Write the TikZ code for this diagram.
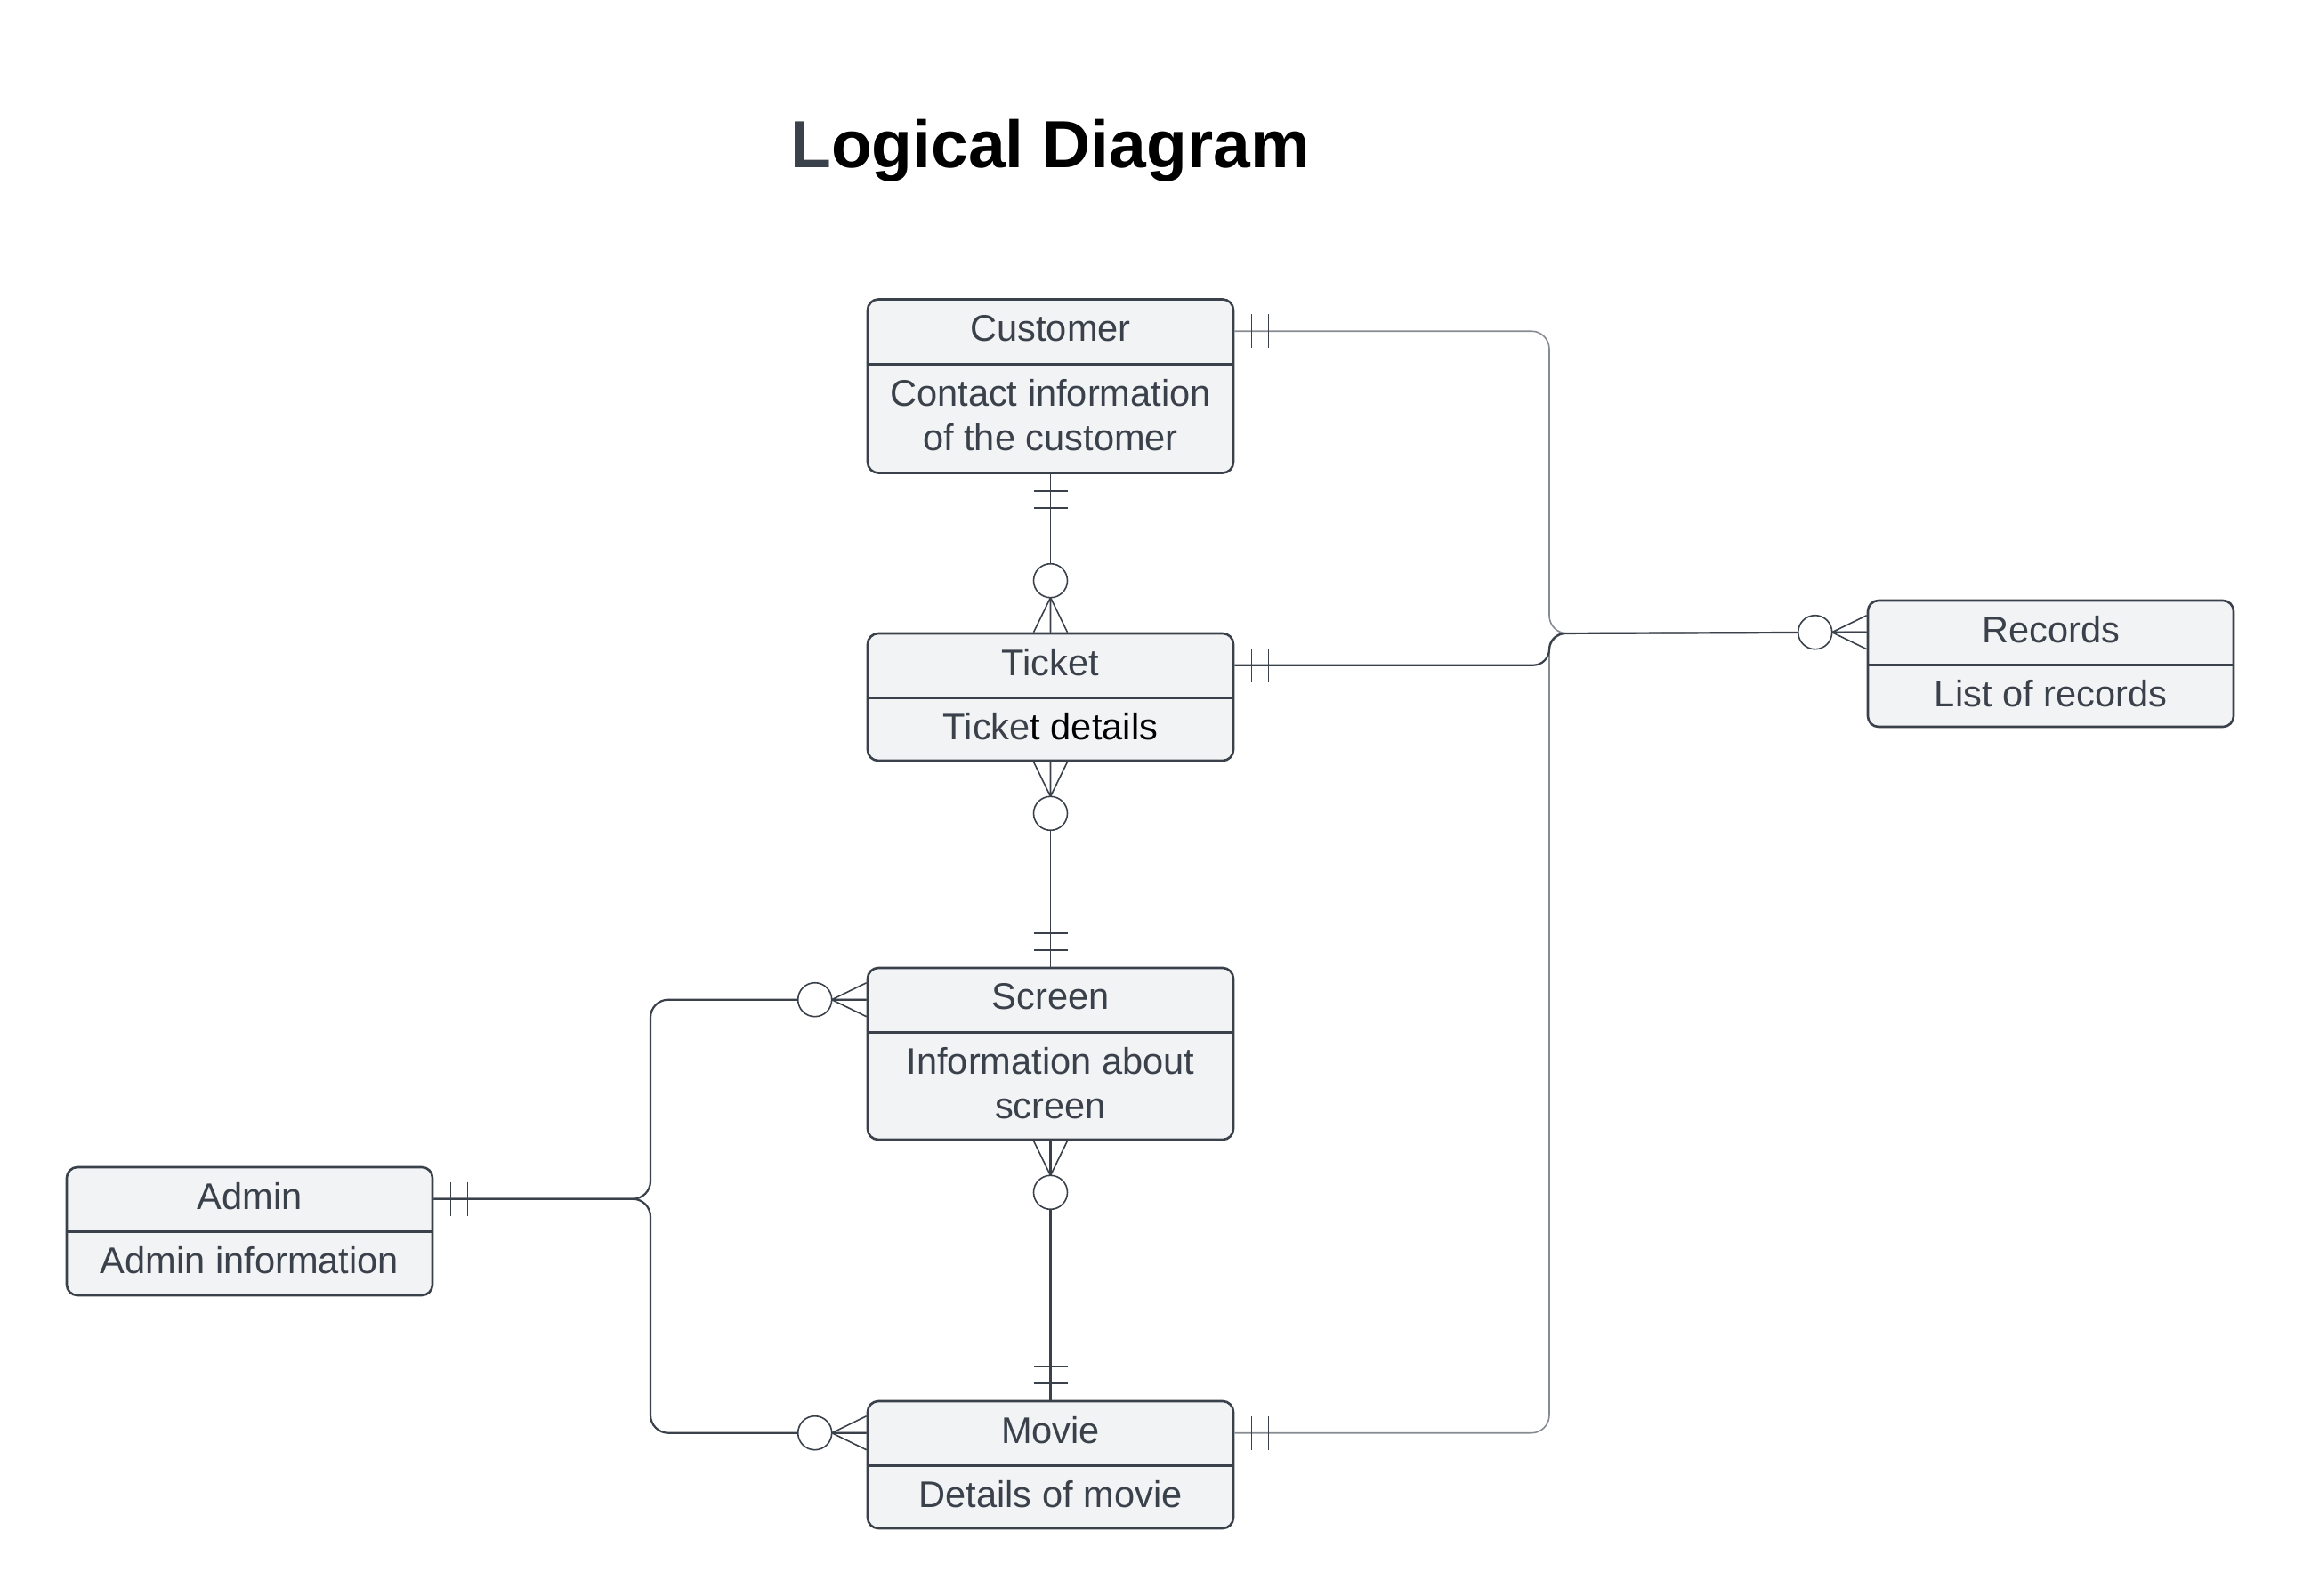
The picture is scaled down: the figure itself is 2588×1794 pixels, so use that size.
\documentclass[tikz,border=0pt]{standalone}
\usepackage{fontspec}
\setmainfont{Liberation Sans}
\usetikzlibrary{calc}
\definecolor{inkc}{HTML}{3A414A}
\definecolor{boxc}{HTML}{F2F3F5}
\definecolor{greyc}{HTML}{868A91}

\begin{document}
\begin{tikzpicture}[x=0.5pt, y=-0.5pt,
    every node/.style={font=\fontsize{20.8}{25}\selectfont, text=inkc},
    entity/.style={draw=inkc, fill=boxc, line width=1.3pt, rounded corners=6pt, minimum width=205.5pt, inner sep=0pt},
    divider/.style={draw=inkc, line width=1.3pt},
    conn/.style={draw=inkc, line width=0.8pt},
    connthick/.style={draw=inkc, line width=1.1pt},
    conngrey/.style={draw=greyc, line width=0.8pt},
    one/.pic={\draw[conn] (19,-19) -- (19,19) (38,-19) -- (38,19);},
    zmany/.pic={\draw[conn] (0,-19) -- (39,0) -- (0,19) (0,0) -- (39,0);
                \draw[conn, fill=white] (58,0) circle (19);}]
    \useasboundingbox (0,0) rectangle (2588,1794);

    \node[font=\fontsize{37.5}{45}\selectfont\bfseries, text=black, anchor=base] (title) at (1180,188) {\textcolor{inkc}{L}ogical Diagram};

    % entities
    \node[entity, minimum height=97.5pt] (cust) at (1180.5,434) {};
    \draw[divider] ([yshift=-37pt]cust.north west) -- ([yshift=-37pt]cust.north east);
    \node (cust-t) at ([yshift=-16.8pt]cust.north) {Customer};
    \node[align=center] (cust-d) at ([yshift=-65.5pt]cust.north) {Contact information\\of the customer};

    \node[entity, minimum height=71.5pt] (ticket) at (1180.5,783.5) {};
    \draw[divider] ([yshift=-37pt]ticket.north west) -- ([yshift=-37pt]ticket.north east);
    \node (ticket-t) at ([yshift=-16.8pt]ticket.north) {Ticket};
    \node (ticket-d) at ([yshift=-52.8pt]ticket.north) {Ticke\textcolor{black}{t details}};

    \node[entity, minimum height=96.5pt] (screen) at (1180.5,1184.5) {};
    \draw[divider] ([yshift=-37pt]screen.north west) -- ([yshift=-37pt]screen.north east);
    \node (screen-t) at ([yshift=-16.8pt]screen.north) {Screen};
    \node[align=center] (screen-d) at ([yshift=-65.5pt]screen.north) {Information about\\screen};

    \node[entity, minimum height=71.5pt] (movie) at (1180.5,1646.5) {};
    \draw[divider] ([yshift=-37pt]movie.north west) -- ([yshift=-37pt]movie.north east);
    \node (movie-t) at ([yshift=-16.8pt]movie.north) {Movie};
    \node (movie-d) at ([yshift=-52.8pt]movie.north) {Details of movie};

    \node[entity, minimum height=72pt] (admin) at (280.5,1384) {};
    \draw[divider] ([yshift=-37pt]admin.north west) -- ([yshift=-37pt]admin.north east);
    \node (admin-t) at ([yshift=-16.8pt]admin.north) {Admin};
    \node (admin-d) at ([yshift=-52.8pt]admin.north) {Admin information};

    \node[entity, minimum height=71pt] (rec) at (2304.5,746) {};
    \draw[divider] ([yshift=-37pt]rec.north west) -- ([yshift=-37pt]rec.north east);
    \node (rec-t) at ([yshift=-16.8pt]rec.north) {Records};
    \node (rec-d) at ([yshift=-52.8pt]rec.north) {List of records};

    % ports on the header rows
    \coordinate (cust-e) at ([yshift=-18.5pt]cust.north east);
    \coordinate (ticket-e) at ([yshift=-18.5pt]ticket.north east);
    \coordinate (movie-e) at ([yshift=-18.5pt]movie.north east);
    \coordinate (movie-w) at ([yshift=-18.5pt]movie.north west);
    \coordinate (screen-w) at ([yshift=-18.5pt]screen.north west);
    \coordinate (admin-e) at ([yshift=-18.5pt]admin.north east);
    \coordinate (rec-w) at ([yshift=-18.5pt]rec.north west);
    \coordinate (jn) at (1741,712);
    \coordinate (ab) at (731,1349);

    % relationships
    \draw[conn] (cust) -- (ticket);
    \draw[conn] (ticket) -- (screen);
    \draw[connthick] (screen) -- (movie);
    \draw[conngrey, rounded corners=10pt] (cust-e) -| (jn) -- (rec-w);
    \draw[conngrey, rounded corners=10pt] (movie-e) -| (jn) -- (rec-w);
    \draw[connthick, rounded corners=9pt] (ticket-e) -| (jn) -- (rec-w);
    \draw[connthick, rounded corners=10pt] (admin-e) -| (screen-w -| ab) -- (screen-w);
    \draw[connthick, rounded corners=10pt] (admin-e) -| (movie-w -| ab) -- (movie-w);

    \pic[rotate=-90] at (cust.south) {one};
    \pic[rotate=90] at (ticket.north) {zmany};
    \pic[rotate=-90] at (ticket.south) {zmany};
    \pic[rotate=90] at (screen.north) {one};
    \pic[rotate=-90] at (screen.south) {zmany};
    \pic[rotate=90] at (movie.north) {one};
    \pic at (cust-e) {one};
    \pic at (ticket-e) {one};
    \pic at (movie-e) {one};
    \pic at (admin-e) {one};
    \pic[rotate=180] at (rec-w) {zmany};
    \pic[rotate=180] at (screen-w) {zmany};
    \pic[rotate=180] at (movie-w) {zmany};
\end{tikzpicture}
\end{document}
